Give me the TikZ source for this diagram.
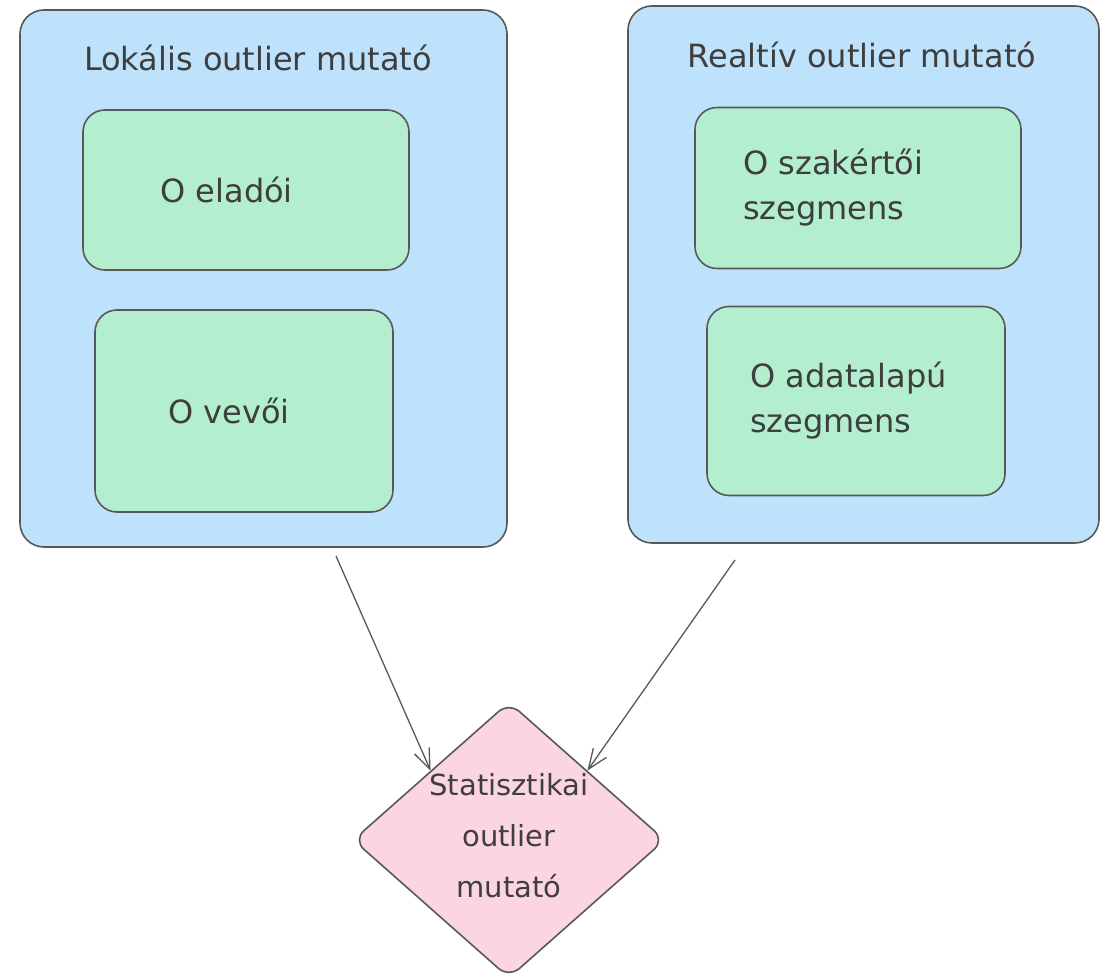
\documentclass[tikz,border=0pt]{standalone}
\usepackage{fontspec}
\setmainfont{DejaVu Sans}
\usetikzlibrary{arrows.meta,shapes.geometric}
\definecolor{groupblue}{RGB}{191,226,252}
\definecolor{itemgreen}{RGB}{179,238,206}
\definecolor{resultpink}{RGB}{252,213,226}
\definecolor{strokegray}{RGB}{88,88,88}
\definecolor{inkgray}{RGB}{62,62,62}

\tikzset{
  groupbox/.style={draw=strokegray, fill=groupblue, line width=1.6pt, rounded corners=24pt, inner sep=0pt},
  itembox/.style={draw=strokegray, fill=itemgreen, line width=1.6pt, rounded corners=22pt, align=left},
  resultbox/.style={diamond, draw=strokegray, fill=resultpink, line width=1.6pt, rounded corners=14pt, inner sep=0pt},
  link/.style={draw=strokegray, line width=1.3pt, -{Straight Barb[length=20pt,width=16pt]}}
}

\begin{document}
\begin{tikzpicture}[x=1pt, y=-1pt, font={\fontsize{32}{45}\selectfont}, text=inkgray]
\useasboundingbox (0,0) rectangle (1100,976);

% Two groups of indicators
\node[groupbox, minimum width=487pt, minimum height=537pt] (lok) at (263.5,278.5) {};
\node[groupbox, minimum width=471pt, minimum height=537pt] (rel) at (863.5,274.5) {};
\node (loktitle) at (258,58) {Lokális outlier mutató};
\node (reltitle) at (862,55) {Realtív outlier mutató};

% Items of the local group
\node[itembox, minimum width=326pt, minimum height=160pt, inner xsep=77pt, text width=172pt] (elado) at (246,190) {O eladói};
\node[itembox, minimum width=298pt, minimum height=202pt, inner xsep=73pt, text width=152pt] (vevo) at (244,411) {O vevői};

% Items of the relative group
\node[itembox, minimum width=326pt, minimum height=161pt, inner xsep=48pt, text width=230pt] (szakerto) at (858,188) {O szakértői\\szegmens};
\node[itembox, minimum width=298pt, minimum height=189pt, inner xsep=43pt, text width=212pt] (adat) at (856,401) {O adatalapú\\szegmens};

% Combined indicator
\node[resultbox, minimum width=312pt, minimum height=276pt] (stat) at (509,840) {};
\node[align=center, font={\fontsize{29}{51}\selectfont}] (stattext) at (509,836) {Statisztikai\\outlier\\mutató};

% Connecting arrows
\coordinate (lokfoot) at (336,556);
\coordinate (relfoot) at (735,560);
\draw[link] (lokfoot) -- (stat.north west);
\draw[link] (relfoot) -- (stat.north east);
\end{tikzpicture}
\end{document}
